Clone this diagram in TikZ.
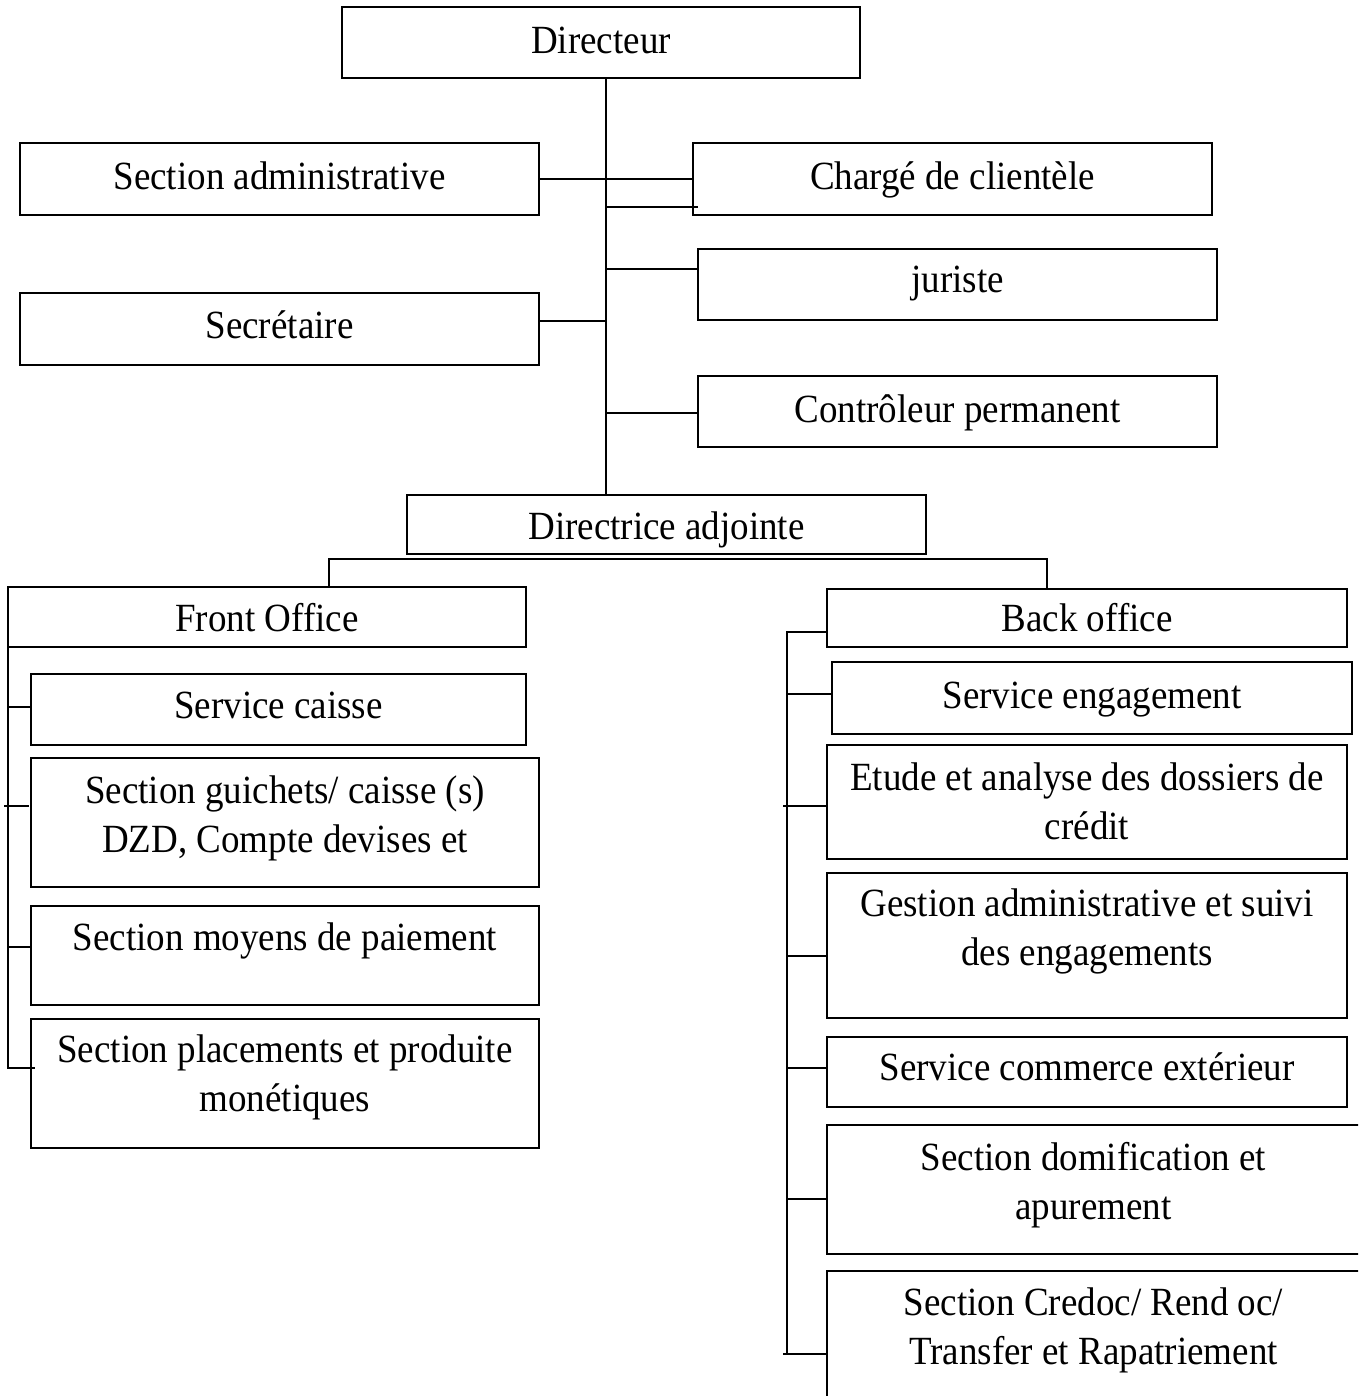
\documentclass[tikz,border=0pt]{standalone}
\usepackage{fontspec}
\setmainfont[FakeStretch=0.925]{Liberation Serif}
\newcommand\orgbox[7]{%
  \node[boxst, minimum width={(#4)-(#2)}, minimum height={(#5)-(#3)}] (#1) at ({((#2)+(#4))/2},{((#3)+(#5))/2}) {};
  \node[txt] (#1-t) at ({((#2)+(#4))/2},#6) {\parbox[t]{640pt}{\centering #7}};
}
\begin{document}
\begin{tikzpicture}[x=1pt,y=-1pt,
  boxst/.style={draw, line width=2.2pt, inner sep=0pt, outer sep=0pt},
  txt/.style={anchor=base, inner sep=0pt, font=\fontsize{40}{49}\selectfont},
  conn/.style={line width=1.8pt}]
\useasboundingbox (0,0) rectangle (1358,1396);
\clip (0,0) rectangle (1358,1396);
\fill[white] (0,0) rectangle (1358,1396);

\orgbox{dir}{342}{7}{860}{78}{54}{Directeur}
\orgbox{sadm}{20}{143}{539}{215}{190}{Section administrative}
\orgbox{charge}{693}{143}{1212}{215}{190}{Chargé de clientèle}
\orgbox{jur}{698}{249}{1217}{320}{293}{juriste}
\orgbox{sec}{20}{293}{539}{365}{338}{Secrétaire}
\orgbox{ctrl}{698}{376}{1217}{447}{422}{Contrôleur permanent}
\orgbox{dadj}{407}{495}{926}{554}{539}{Directrice adjointe}
\orgbox{fo}{8}{587}{526}{647}{631}{Front Office}
\orgbox{bo}{827}{589}{1347}{647}{631}{Back office}
\orgbox{sc}{31}{674}{526}{745}{718}{Service caisse}
\orgbox{sg}{31}{758}{539}{887}{803}{Section guichets/ caisse (s)\\DZD, Compte devises et}
\orgbox{smp}{31}{906}{539}{1005}{950}{Section moyens de paiement}
\orgbox{spl}{31}{1019}{539}{1148}{1062}{Section placements et produite\\monétiques}
\orgbox{seng}{832}{662}{1352}{734}{708}{Service engagement}
\orgbox{etu}{827}{745}{1347}{859}{790}{Etude et analyse des dossiers de\\crédit}
\orgbox{ges}{827}{873}{1347}{1018}{916}{Gestion administrative et suivi\\des engagements}
\orgbox{sce}{827}{1037}{1347}{1107}{1080}{Service commerce extérieur}
\orgbox{sdom}{827}{1125}{1360}{1254}{1170}{Section domification et\\apurement}
\orgbox{scr}{827}{1271}{1360}{1402}{1315}{Section Credoc/ Rend oc/\\Transfer et Rapatriement}

% top spine
\coordinate (spx) at (606,0);
\draw[conn] (dir.south -| spx) -- (dadj.north -| spx);
\draw[conn] (sadm.east) -- (charge.west);
\coordinate (c1) at (698,207);
\draw[conn] (spx |- c1) -- (c1);
\draw[conn] (spx |- 0,269) -- (jur.west |- 0,269);
\draw[conn] (sec.east |- 0,321) -- (spx |- 0,321);
\draw[conn] (spx |- 0,413) -- (ctrl.west |- 0,413);

% bar below Directrice adjointe
\coordinate (fx) at (329,559);
\coordinate (bx) at (1047,559);
\draw[conn] (fo.north -| fx) -- (fx) -- (bx) -- (bo.north -| bx);

% Front office spine
\coordinate (fs) at (8,1068);
\draw[conn] (fo.south west) -- (fs) -- (35,1068);
\draw[conn] (8,707) -- (sc.west |- 0,707);
\coordinate (ft1) at (4,806);
\coordinate (ft2) at (29,806);
\draw[conn] (ft1) -- (ft2);
\draw[conn] (8,947) -- (smp.west |- 0,947);

% Back office spine
\coordinate (bs) at (787,632);
\coordinate (be) at (787,1354);
\draw[conn] (bo.west |- bs) -- (bs) -- (be);
\draw[conn] (787,694) -- (seng.west |- 0,694);
\draw[conn] (783,806) -- (etu.west |- 0,806);
\draw[conn] (787,956) -- (ges.west |- 0,956);
\draw[conn] (787,1068) -- (sce.west |- 0,1068);
\draw[conn] (787,1199) -- (sdom.west |- 0,1199);
\draw[conn] (783,1354) -- (scr.west |- 0,1354);
\end{tikzpicture}
\end{document}
